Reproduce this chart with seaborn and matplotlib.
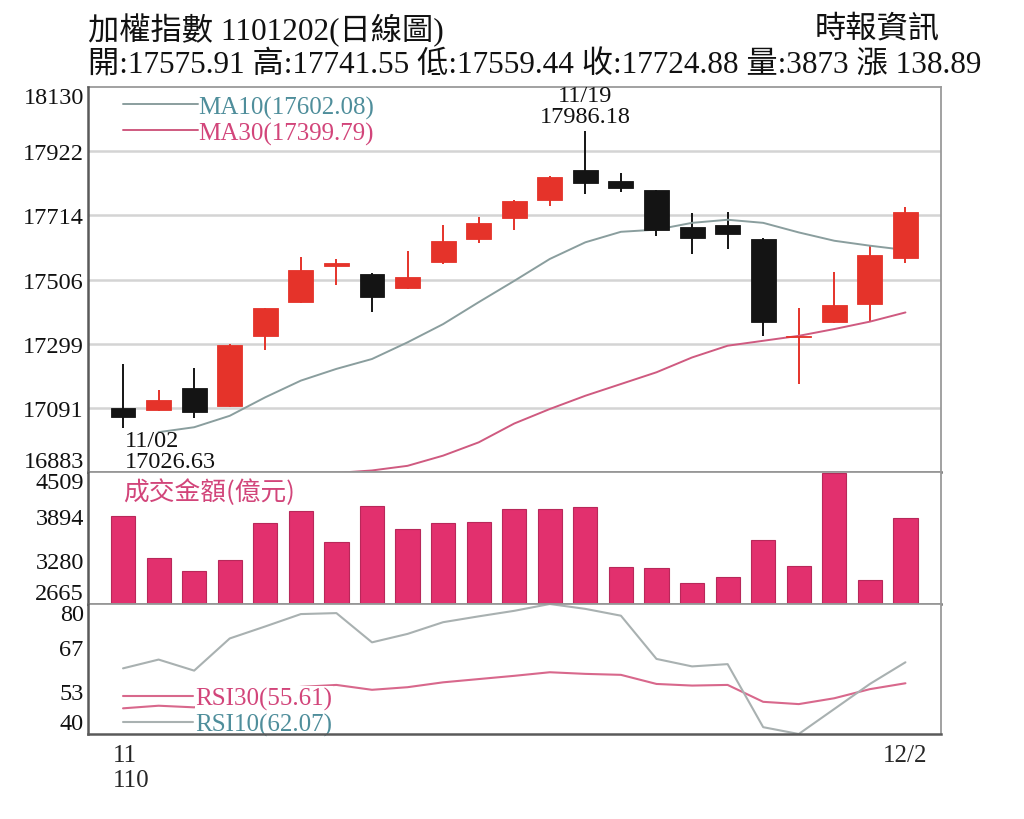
import numpy as np
import pandas as pd
import matplotlib
matplotlib.use('Agg')
import matplotlib.pyplot as plt
import seaborn as sns

# ---------------- data ----------------
dates = ['11/02', '11/03', '11/04', '11/05', '11/08', '11/09', '11/10', '11/11',
         '11/12', '11/15', '11/16', '11/17', '11/18', '11/19', '11/22', '11/23',
         '11/24', '11/25', '11/26', '11/29', '11/30', '12/01', '12/02']
opens = [17090, 17085, 17154, 17096, 17322, 17433, 17549, 17524, 17478, 17562,
         17638, 17705, 17765, 17862, 17827, 17796, 17678, 17683, 17638, 17319,
         17368, 17427, 17575.91]
highs = [17233, 17150, 17219, 17296, 17415, 17578, 17573, 17526, 17600, 17683,
         17708, 17764, 17841, 17986.18, 17850, 17798, 17721, 17724, 17640, 17413,
         17532, 17619, 17741.55]
lows = [17026.63, 17080, 17057, 17094, 17279, 17430, 17489, 17400, 17476, 17558,
        17625, 17668, 17746, 17783, 17789, 17648, 17589, 17605, 17324, 17168,
        17366, 17368, 17559.44]
closes = [17062, 17117, 17076, 17294, 17413, 17538, 17560, 17449, 17514, 17632,
          17690, 17762, 17839, 17818, 17803, 17667, 17641, 17654, 17368, 17325,
          17425, 17585.99, 17724.88]
ma10 = [np.nan, 17012, 17028, 17065, 17125, 17179, 17217, 17249, 17303, 17362,
        17433, 17502, 17573, 17627, 17661, 17668, 17690, 17700, 17690, 17659,
        17632, 17616, 17602.08]
ma30 = [np.nan, np.nan, np.nan, np.nan, np.nan, np.nan, 16880, 16888, 16903, 16936,
        16979, 17040, 17087, 17130, 17168, 17206, 17254, 17292, 17308, 17324,
        17346, 17370, 17399.79]
volume = [3899, 3303, 3122, 3280, 3797, 3968, 3535, 4030, 3713, 3797, 3806, 3992,
          3992, 4016, 3178, 3164, 2958, 3038, 3563, 3200, 4500, 3005, 3873]
rsi10 = [60.2, 62.9, 59.5, 69.4, 73.1, 76.9, 77.2, 68.2, 70.8, 74.4, 76.2, 77.9,
         80.0, 78.5, 76.4, 63.1, 60.8, 61.5, 42.1, 40.0, 47.7, 55.4, 62.07]
rsi30 = [47.9, 48.7, 48.2, 51.0, 52.8, 54.5, 55.1, 53.6, 54.4, 55.9, 56.9, 57.9,
         59.0, 58.5, 58.2, 55.4, 54.9, 55.1, 49.9, 49.2, 51.0, 53.8, 55.61]

price_ticks = [16883, 17091, 17299, 17506, 17714, 17922, 18130]
vol_ticks = [2665, 3280, 3894, 4509]
rsi_ticks = [40, 53.33, 66.67, 80]
rsi_tick_labels = ['40', '53', '67', '80']

title_text = '加權指數 1101202(日線圖)'
source_text = '時報資訊'
quote_text = '開:17575.91 高:17741.55 低:17559.44 收:17724.88 量:3873 漲 138.89'
vol_title = '成交金額(億元)'
x_first_label = '11\n110'
x_last_label = '12/2'

df = pd.DataFrame({'idx': np.arange(len(dates)), 'date': dates, 'open': opens,
                   'high': highs, 'low': lows, 'close': closes, 'ma10': ma10,
                   'ma30': ma30, 'volume': volume, 'rsi10': rsi10, 'rsi30': rsi30})

# ---------------- style ----------------
sns.set_theme(style='white')
FONTS = ['Liberation Serif', 'Noto Sans CJK TC', 'DejaVu Sans']
plt.rcParams['font.family'] = FONTS
plt.rcParams['axes.unicode_minus'] = False

RED = '#e5332a'
BLACK = '#141414'
VOL = '#e2306e'
MA10_LINE = '#8a9e9e'
MA10_TXT = '#4f8e9b'
MA30_LINE = '#cf5a80'
MA30_TXT = '#d2457a'
RSI10_LINE = '#a9b1b1'
RSI30_LINE = '#d8688c'
SPINE = '#5a5a5a'
GRID = '#d4d4d4'

W_PX, H_PX = 1024, 820
fig = plt.figure(figsize=(W_PX / 100, H_PX / 100), dpi=100)
fig.patch.set_facecolor('white')

left, right = 88, 941
def box(top, bottom):
    return [left / W_PX, 1 - bottom / H_PX, (right - left) / W_PX, (bottom - top) / H_PX]

ax1 = fig.add_axes(box(88, 473))
ax2 = fig.add_axes(box(473, 605), sharex=ax1)
ax3 = fig.add_axes(box(605, 735), sharex=ax1)

# ---------------- price panel ----------------
up = df['close'] >= df['open']
colors = np.where(up, RED, BLACK)
ax1.vlines(df['idx'], df['low'], df['high'], colors=colors, lw=1.4, zorder=2)
body = (df['close'] - df['open']).abs().clip(lower=5)
ax1.bar(df['idx'], body, bottom=df[['open', 'close']].min(axis=1), width=0.7,
        color=colors, edgecolor=colors, linewidth=0.6, zorder=3)
sns.lineplot(data=df, x='idx', y='ma10', ax=ax1, color=MA10_LINE, lw=1.4,
             estimator=None, zorder=2.5, label='MA10(17602.08)')
sns.lineplot(data=df, x='idx', y='ma30', ax=ax1, color=MA30_LINE, lw=1.4,
             estimator=None, zorder=2.5, label='MA30(17399.79)')
ax1.set_ylim(price_ticks[0], price_ticks[-1])
ax1.set_yticks(price_ticks)
ax1.set_yticklabels([str(t) for t in price_ticks])
for y in price_ticks[1:-1]:
    ax1.axhline(y, color=GRID, lw=1.8, zorder=0)
leg1 = ax1.legend(loc='upper left', bbox_to_anchor=(0.041, 0.978), frameon=False,
                  fontsize=18, handlelength=3.0, handletextpad=0.0,
                  labelspacing=0.12, borderpad=0, borderaxespad=0,
                  labelcolor=[MA10_TXT, MA30_TXT])

# annotations for high / low
hi = int(np.argmax(highs))
lo = int(np.argmin(lows))
ax1.annotate(f'{dates[hi]}\n{highs[hi]:.2f}', xy=(hi, highs[hi]), xytext=(0, 3),
             textcoords='offset points', ha='center', va='bottom', fontsize=17.5,
             linespacing=1.0, color='#111111', annotation_clip=False)
ax1.annotate(f'{dates[lo]}\n{lows[lo]:.2f}', xy=(lo, lows[lo]), xytext=(1, -2),
             textcoords='offset points', ha='left', va='top', fontsize=17.5,
             linespacing=1.0, color='#111111', annotation_clip=False, zorder=6)

# ---------------- volume panel ----------------
sns.barplot(data=df, x='idx', y='volume', ax=ax2, native_scale=True, color=VOL,
            saturation=1, width=0.68, edgecolor='#b8285a', linewidth=0.8)
ax2.set_ylim(vol_ticks[0], vol_ticks[-1])
ax2.set_yticks(vol_ticks)
ax2.set_yticklabels([str(t) for t in vol_ticks])
ax2.text(0.041, 0.95, vol_title, transform=ax2.transAxes, ha='left', va='top',
         fontsize=18.5, color=MA30_TXT, family=['Noto Sans CJK TC', 'Liberation Serif'])

# ---------------- RSI panel ----------------
sns.lineplot(data=df, x='idx', y='rsi30', ax=ax3, color=RSI30_LINE, lw=1.5,
             estimator=None, label='RSI30(55.61)')
sns.lineplot(data=df, x='idx', y='rsi10', ax=ax3, color=RSI10_LINE, lw=1.5,
             estimator=None, label='RSI10(62.07)')
ax3.set_ylim(rsi_ticks[0], rsi_ticks[-1])
ax3.set_yticks(rsi_ticks)
ax3.set_yticklabels(rsi_tick_labels)
leg3 = ax3.legend(loc='upper left', bbox_to_anchor=(0.041, 0.36), frameon=False,
                  fontsize=18, handlelength=2.8, handletextpad=0.1,
                  labelspacing=0.12, borderpad=0, borderaxespad=0,
                  labelcolor=[MA30_TXT, MA10_TXT])
# only the upper entry hides the line behind it
leg3.get_texts()[0].set_bbox(dict(facecolor='white', edgecolor='none', pad=0.5))

# x axis
ax3.set_xticks(df['idx'])
ax3.set_xticklabels([''] * len(df))
ax3.tick_params(axis='x', length=3, width=1, color='#777777', direction='out', pad=0)
ax3.annotate(x_first_label, xy=(0, 0), xycoords=ax3.get_xaxis_transform(),
             xytext=(-7.5, -7.5), textcoords='offset points', ha='left', va='top',
             fontsize=18, linespacing=1.15, multialignment='left')
ax3.annotate(x_last_label, xy=(len(df) - 1, 0), xycoords=ax3.get_xaxis_transform(),
             xytext=(0, -7), textcoords='offset points', ha='center', va='top',
             fontsize=18)
ax1.set_xlim(-0.985, len(df))

# common axis styling
for ax in (ax1, ax2, ax3):
    ax.set_xlabel('')
    ax.set_ylabel('')
    ax.set_facecolor('white')
    ax.tick_params(axis='y', length=0, pad=3, labelsize=17.5, labelcolor='#111111')
    for s in ('left', 'bottom'):
        ax.spines[s].set_color(SPINE)
        ax.spines[s].set_linewidth(1.8)
        ax.spines[s].set_zorder(6)
    for s in ('top', 'right'):
        ax.spines[s].set_color('#9a9a9a')
        ax.spines[s].set_linewidth(1.3)
    labels = ax.get_yticklabels()
    labels[0].set_va('bottom')
    labels[-1].set_va('top')
for ax in (ax1, ax2):
    ax.tick_params(axis='x', length=0, labelbottom=False)

# ---------------- header ----------------
fig.text(88 / W_PX, 1 - 30 / H_PX, title_text, ha='left', va='center', fontsize=22.5,
         color='#111111')
fig.text(940 / W_PX, 1 - 30 / H_PX, source_text, ha='right', va='center', fontsize=22.5,
         color='#111111')
fig.text(88 / W_PX, 1 - 66 / H_PX, quote_text, ha='left', va='center', fontsize=22.5,
         color='#111111')

fig.savefig('out.png', dpi=100, facecolor='white')
